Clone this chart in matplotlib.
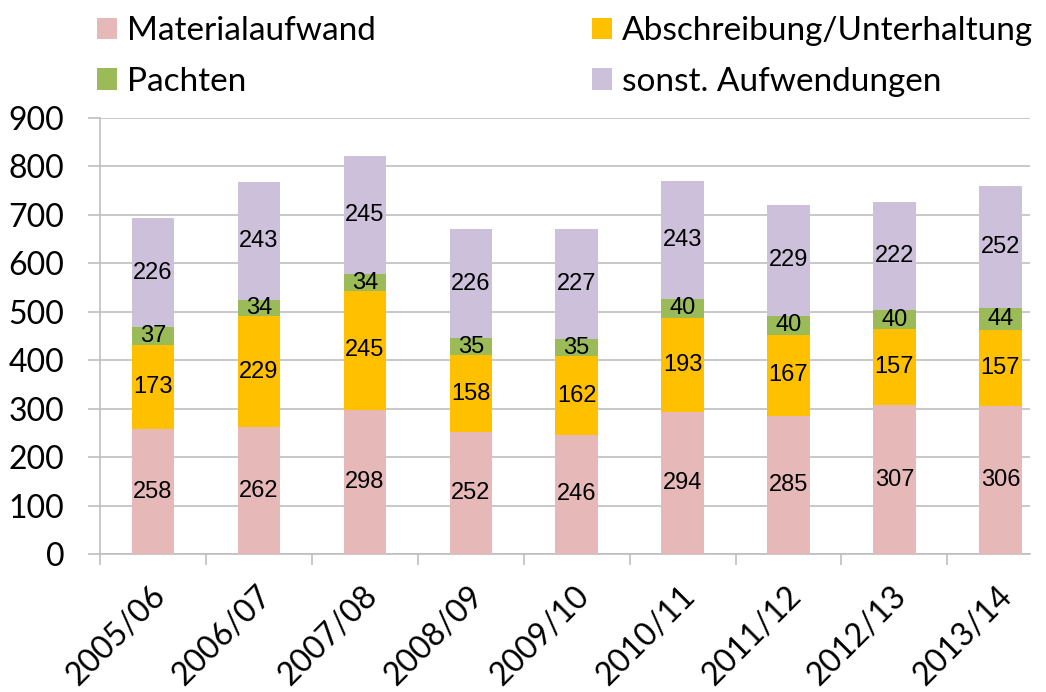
import matplotlib
matplotlib.use("Agg")
import matplotlib.pyplot as plt
import matplotlib.transforms as mtransforms
import numpy as np

categories = ["2005/06", "2006/07", "2007/08", "2008/09", "2009/10",
              "2010/11", "2011/12", "2012/13", "2013/14"]
material = [258, 262, 298, 252, 246, 294, 285, 307, 306]
abschreibung = [173, 229, 245, 158, 162, 193, 167, 157, 157]
pachten = [37, 34, 34, 35, 35, 40, 40, 40, 44]
sonst = [226, 243, 245, 226, 227, 243, 229, 222, 252]

series = [
    ("Materialaufwand", material, "#E6B9B8"),
    ("Abschreibung/Unterhaltung", abschreibung, "#FFC000"),
    ("Pachten", pachten, "#9BBB59"),
    ("sonst. Aufwendungen", sonst, "#CCC0DA"),
]

axis_font = "Lato"
label_font = "Liberation Sans"

fig = plt.figure(figsize=(10.46, 6.92), dpi=100)
ax = fig.add_axes([100/1046, 1-554/692, 930/1046, 436/692])

x = np.arange(len(categories))
bottom = np.zeros(len(categories))
handles = {}
for name, vals, col in series:
    vals = np.array(vals, dtype=float)
    b = ax.bar(x, vals, 0.4, bottom=bottom, color=col, label=name, zorder=3)
    handles[name] = b
    for xi, v, bt in zip(x, vals, bottom):
        ax.text(xi, bt + v/2, f"{int(v)}", ha="center", va="center",
                fontsize=17, family=label_font, color="black", zorder=4)
    bottom += vals

ax.set_ylim(0, 900)
ax.set_xlim(-0.5, 8.28)
ax.set_yticks(range(0, 901, 100))
ax.yaxis.grid(True, color="#BFBFBF", linewidth=1.2, zorder=0)
ax.set_axisbelow(True)
for s in ["top", "right"]:
    ax.spines[s].set_visible(False)
for s in ["left", "bottom"]:
    ax.spines[s].set_color("#BFBFBF")
    ax.spines[s].set_linewidth(1.2)

ax.set_xticks(x)
ax.set_xticklabels(categories, rotation=45, ha="right", rotation_mode="anchor",
                   fontsize=23, family=axis_font)
ax.tick_params(axis="x", length=0, pad=19)
offset = mtransforms.ScaledTranslation(-3/100, 0, fig.dpi_scale_trans)
for lab in ax.get_xticklabels():
    lab.set_transform(lab.get_transform() + offset)
ax.set_xticks(np.arange(-0.5, 8.5, 1), minor=True)
ax.tick_params(axis="x", which="minor", length=8, color="#BFBFBF", width=1.2)
ax.tick_params(axis="y", length=8.6, color="#BFBFBF", width=1.2, pad=17,
               labelsize=23)
for lab in ax.get_yticklabels():
    lab.set_family(axis_font)

common = dict(loc="upper left", frameon=False,
              prop={"family": axis_font, "size": 24},
              handlelength=0.6, handleheight=0.6, handletextpad=0.3,
              labelspacing=0.62, borderpad=0, borderaxespad=0)
col1 = ["Materialaufwand", "Pachten"]
col2 = ["Abschreibung/Unterhaltung", "sonst. Aufwendungen"]
fig.legend([handles[n] for n in col1], col1,
           bbox_to_anchor=(97/1046, 1-16/692), **common)
fig.legend([handles[n] for n in col2], col2,
           bbox_to_anchor=(592/1046, 1-16/692), **common)

fig.savefig("out.png", dpi=100)
